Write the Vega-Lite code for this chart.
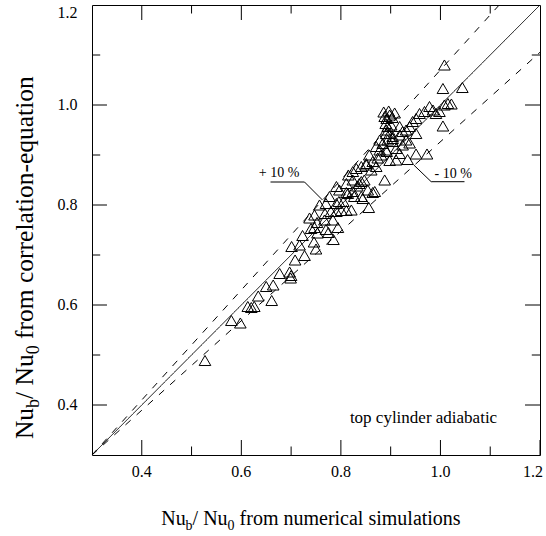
{
  "$schema": "https://vega.github.io/schema/vega-lite/v6.json",
  "width": 448,
  "height": 450,
  "autosize": "none",
  "padding": {"left": 92, "top": 5, "right": 6, "bottom": 81},
  "config": {
    "view": {"stroke": "black", "strokeWidth": 1},
    "font": "Liberation Serif"
  },
  "datasets": {
    "major": [{"v": 0.4}, {"v": 0.6}, {"v": 0.8}, {"v": 1.0}, {"v": 1.2}],
    "tickpaths": [
      {"id":"b4","x":0.4,"y":0.3},{"id":"b4","x":0.4,"y":0.33},
      {"id":"b6","x":0.6,"y":0.3},{"id":"b6","x":0.6,"y":0.33},
      {"id":"b8","x":0.8,"y":0.3},{"id":"b8","x":0.8,"y":0.33},
      {"id":"b10","x":1.0,"y":0.3},{"id":"b10","x":1.0,"y":0.33},
      {"id":"b12","x":1.2,"y":0.3},{"id":"b12","x":1.2,"y":0.33},
      {"id":"t4","x":0.4,"y":1.2},{"id":"t4","x":0.4,"y":1.17},
      {"id":"t6","x":0.6,"y":1.2},{"id":"t6","x":0.6,"y":1.17},
      {"id":"t8","x":0.8,"y":1.2},{"id":"t8","x":0.8,"y":1.17},
      {"id":"t10","x":1.0,"y":1.2},{"id":"t10","x":1.0,"y":1.17},
      {"id":"l4","x":0.3,"y":0.4},{"id":"l4","x":0.3301,"y":0.4},
      {"id":"l6","x":0.3,"y":0.6},{"id":"l6","x":0.3301,"y":0.6},
      {"id":"l8","x":0.3,"y":0.8},{"id":"l8","x":0.3301,"y":0.8},
      {"id":"l10","x":0.3,"y":1.0},{"id":"l10","x":0.3301,"y":1.0},
      {"id":"r4","x":1.1699,"y":0.4},{"id":"r4","x":1.2,"y":0.4},
      {"id":"r6","x":1.1699,"y":0.6},{"id":"r6","x":1.2,"y":0.6},
      {"id":"r8","x":1.1699,"y":0.8},{"id":"r8","x":1.2,"y":0.8},
      {"id":"r10","x":1.1699,"y":1.0},{"id":"r10","x":1.2,"y":1.0},
      {"id":"b5","x":0.5,"y":0.3},{"id":"b5","x":0.5,"y":0.317},
      {"id":"b7","x":0.7,"y":0.3},{"id":"b7","x":0.7,"y":0.317},
      {"id":"b9","x":0.9,"y":0.3},{"id":"b9","x":0.9,"y":0.317},
      {"id":"b11","x":1.1,"y":0.3},{"id":"b11","x":1.1,"y":0.317},
      {"id":"t5","x":0.5,"y":1.2},{"id":"t5","x":0.5,"y":1.183},
      {"id":"t7","x":0.7,"y":1.2},{"id":"t7","x":0.7,"y":1.183},
      {"id":"t9","x":0.9,"y":1.2},{"id":"t9","x":0.9,"y":1.183},
      {"id":"t11","x":1.1,"y":1.2},{"id":"t11","x":1.1,"y":1.183},
      {"id":"l5","x":0.3,"y":0.5},{"id":"l5","x":0.3165,"y":0.5},
      {"id":"l7","x":0.3,"y":0.7},{"id":"l7","x":0.3165,"y":0.7},
      {"id":"l9","x":0.3,"y":0.9},{"id":"l9","x":0.3165,"y":0.9},
      {"id":"l11","x":0.3,"y":1.1},{"id":"l11","x":0.3165,"y":1.1},
      {"id":"r5","x":1.1835,"y":0.5},{"id":"r5","x":1.2,"y":0.5},
      {"id":"r7","x":1.1835,"y":0.7},{"id":"r7","x":1.2,"y":0.7},
      {"id":"r9","x":1.1835,"y":0.9},{"id":"r9","x":1.2,"y":0.9},
      {"id":"r11","x":1.1835,"y":1.1},{"id":"r11","x":1.2,"y":1.1}
    ],
    "xtitle": [{"t": "Nu", "x": 0.439, "y": 0.16}, {"t": "/ Nu", "x": 0.5021, "y": 0.16}, {"t": "from numerical simulations", "x": 0.5965, "y": 0.16}],
    "xsub": [{"t": "b", "x": 0.488, "y": 0.15}, {"t": "0", "x": 0.5724, "y": 0.15}],
    "ytitle": [{"t": "Nu", "x": 0.1815, "y": 0.3318}, {"t": "/ Nu", "x": 0.1815, "y": 0.4122}, {"t": "from correlation-equation", "x": 0.1815, "y": 0.5322}],
    "ysub": [{"t": "b", "x": 0.1935, "y": 0.3942}, {"t": "0", "x": 0.1935, "y": 0.5014}],
    "lines": [
      {"line": "solid", "x": 0.3, "y": 0.3}, {"line": "solid", "x": 1.2, "y": 1.2},
      {"line": "plus", "x": 0.3, "y": 0.3}, {"line": "plus", "x": 1.118, "y": 1.2},
      {"line": "minus", "x": 0.3, "y": 0.3}, {"line": "minus", "x": 1.2, "y": 1.1055}
    ],
    "leaders": [
      {"id": "p", "x": 0.6586, "y": 0.846}, {"id": "p", "x": 0.7269, "y": 0.846}, {"id": "p", "x": 0.763, "y": 0.81},
      {"id": "m", "x": 0.9465, "y": 0.88}, {"id": "m", "x": 0.9814, "y": 0.8466}, {"id": "m", "x": 1.0483, "y": 0.8466}
    ],
    "notes": [
      {"label": "+ 10 %", "x": 0.6757, "y": 0.856},
      {"label": "- 10 %", "x": 1.0257, "y": 0.8546}
    ],
    "caption": [{"label": "top cylinder adiabatic", "x": 0.966, "y": 0.364}],
    "pts": [
      {"x":0.527,"y":0.489},{"x":0.580,"y":0.569},{"x":0.598,"y":0.564},{"x":0.613,"y":0.597},{"x":0.620,"y":0.595},{"x":0.626,"y":0.597},{"x":0.634,"y":0.618},{"x":0.661,"y":0.609},{"x":0.650,"y":0.637},{"x":0.664,"y":0.640},
      {"x":0.677,"y":0.663},{"x":0.697,"y":0.666},{"x":0.700,"y":0.659},{"x":0.699,"y":0.654},{"x":0.708,"y":0.690},{"x":0.701,"y":0.717},{"x":0.727,"y":0.699},{"x":0.723,"y":0.739},{"x":0.740,"y":0.753},{"x":0.747,"y":0.755},
      {"x":0.752,"y":0.765},{"x":0.746,"y":0.726},{"x":0.750,"y":0.712},{"x":0.770,"y":0.751},{"x":0.775,"y":0.745},{"x":0.785,"y":0.731},{"x":0.794,"y":0.755},{"x":0.768,"y":0.783},{"x":0.780,"y":0.787},{"x":0.791,"y":0.787},
      {"x":0.801,"y":0.789},{"x":0.811,"y":0.789},{"x":0.821,"y":0.790},{"x":0.791,"y":0.803},{"x":0.796,"y":0.807},{"x":0.805,"y":0.807},{"x":0.811,"y":0.825},{"x":0.814,"y":0.823},{"x":0.824,"y":0.827},{"x":0.827,"y":0.817},
      {"x":0.841,"y":0.817},{"x":0.844,"y":0.813},{"x":0.856,"y":0.795},{"x":0.864,"y":0.825},{"x":0.815,"y":0.860},{"x":0.837,"y":0.843},{"x":0.841,"y":0.847},{"x":0.847,"y":0.850},{"x":0.824,"y":0.867},{"x":0.831,"y":0.873},
      {"x":0.841,"y":0.877},{"x":0.851,"y":0.880},{"x":0.861,"y":0.870},{"x":0.871,"y":0.877},{"x":0.888,"y":0.850},{"x":0.898,"y":0.889},{"x":0.934,"y":0.891},{"x":0.951,"y":0.902},{"x":0.973,"y":0.902},{"x":0.918,"y":0.903},
      {"x":0.911,"y":0.913},{"x":0.891,"y":0.910},{"x":0.878,"y":0.910},{"x":0.864,"y":0.887},{"x":0.851,"y":0.883},{"x":0.857,"y":0.900},{"x":0.871,"y":0.917},{"x":0.891,"y":0.943},{"x":0.904,"y":0.933},{"x":0.918,"y":0.940},
      {"x":0.931,"y":0.930},{"x":0.951,"y":0.943},{"x":0.878,"y":0.930},{"x":0.884,"y":0.923},{"x":0.888,"y":0.977},{"x":0.892,"y":0.973},{"x":0.898,"y":0.980},{"x":0.903,"y":0.975},{"x":0.890,"y":0.963},{"x":0.894,"y":0.957},
      {"x":0.901,"y":0.960},{"x":0.891,"y":0.950},{"x":0.898,"y":0.943},{"x":0.904,"y":0.937},{"x":0.894,"y":0.930},{"x":0.904,"y":0.927},{"x":0.881,"y":0.900},{"x":0.892,"y":0.907},{"x":0.918,"y":0.957},{"x":0.924,"y":0.947},
      {"x":0.931,"y":0.950},{"x":0.938,"y":0.957},{"x":0.944,"y":0.967},{"x":0.951,"y":0.973},{"x":0.958,"y":0.983},{"x":0.968,"y":0.987},{"x":0.978,"y":0.997},{"x":0.985,"y":0.990},{"x":0.991,"y":0.983},{"x":0.998,"y":0.987},
      {"x":1.008,"y":1.000},{"x":1.015,"y":1.003},{"x":1.005,"y":0.958},{"x":1.005,"y":1.033},{"x":1.044,"y":1.035},{"x":1.008,"y":1.080},{"x":1.022,"y":1.002},{"x":0.868,"y":0.827},{"x":0.854,"y":0.830},{"x":0.824,"y":0.850},
      {"x":0.811,"y":0.843},{"x":0.797,"y":0.830},{"x":0.791,"y":0.837},{"x":0.777,"y":0.817},{"x":0.770,"y":0.803},{"x":0.757,"y":0.800},{"x":0.747,"y":0.780},{"x":0.737,"y":0.774},{"x":0.767,"y":0.770},{"x":0.784,"y":0.770},
      {"x":0.753,"y":0.744},{"x":0.717,"y":0.720},{"x":0.911,"y":0.890},{"x":0.924,"y":0.920},{"x":0.938,"y":0.924},{"x":0.896,"y":0.988},{"x":0.886,"y":0.986},{"x":0.908,"y":0.984},{"x":0.874,"y":0.894},{"x":0.833,"y":0.838}
    ]
  },
  "layer": [
    {
      "data": {"name": "lines"},
      "mark": {"type": "line", "color": "black", "strokeWidth": 1},
      "encoding": {
        "x": {"field": "x", "type": "quantitative", "scale": {"domain": [0.3, 1.2], "nice": false, "zero": false}, "axis": null},
        "y": {"field": "y", "type": "quantitative", "scale": {"domain": [0.3, 1.2], "nice": false, "zero": false}, "axis": null},
        "detail": {"field": "line"},
        "strokeDash": {"field": "line", "type": "nominal", "scale": {"domain": ["solid", "plus", "minus"], "range": [[1, 0], [7, 8], [7, 8]]}, "legend": null}
      }
    },
    {
      "data": {"name": "tickpaths"},
      "mark": {"type": "line", "color": "black", "strokeWidth": 1},
      "encoding": {
        "x": {"field": "x", "type": "quantitative", "axis": null},
        "y": {"field": "y", "type": "quantitative", "axis": null},
        "detail": {"field": "id"}
      }
    },
    {
      "data": {"name": "major"},
      "transform": [{"filter": "datum.v < 1.1"}],
      "mark": {"type": "text", "font": "Liberation Serif", "color": "black", "fontSize": 16, "align": "center", "baseline": "top"},
      "encoding": {"x": {"field": "v", "type": "quantitative", "axis": null}, "y": {"datum": 0.2812, "type": "quantitative", "axis": null}, "text": {"field": "v", "type": "quantitative", "format": ".1f"}}
    },
    {
      "data": {"name": "major"},
      "transform": [{"filter": "datum.v > 1.1"}],
      "mark": {"type": "text", "font": "Liberation Serif", "color": "black", "fontSize": 16, "align": "right", "baseline": "top", "dx": 3},
      "encoding": {"x": {"field": "v", "type": "quantitative", "axis": null}, "y": {"datum": 0.2812, "type": "quantitative", "axis": null}, "text": {"field": "v", "type": "quantitative", "format": ".1f"}}
    },
    {
      "data": {"name": "major"},
      "transform": [{"filter": "datum.v < 1.1"}],
      "mark": {"type": "text", "font": "Liberation Serif", "color": "black", "fontSize": 16, "align": "right", "baseline": "middle"},
      "encoding": {"y": {"field": "v", "type": "quantitative", "axis": null}, "x": {"datum": 0.2709, "type": "quantitative", "axis": null}, "text": {"field": "v", "type": "quantitative", "format": ".1f"}}
    },
    {
      "data": {"name": "major"},
      "transform": [{"filter": "datum.v > 1.1"}],
      "mark": {"type": "text", "font": "Liberation Serif", "color": "black", "fontSize": 16, "align": "right", "baseline": "top"},
      "encoding": {"y": {"field": "v", "type": "quantitative", "axis": null}, "x": {"datum": 0.2709, "type": "quantitative", "axis": null}, "text": {"field": "v", "type": "quantitative", "format": ".1f"}}
    },
    {
      "data": {"name": "xtitle"},
      "mark": {"type": "text", "font": "Liberation Serif", "color": "black", "fontSize": 20, "align": "left", "baseline": "alphabetic"},
      "encoding": {"x": {"field": "x", "type": "quantitative", "axis": null}, "y": {"field": "y", "type": "quantitative", "axis": null}, "text": {"field": "t"}}
    },
    {
      "data": {"name": "xsub"},
      "mark": {"type": "text", "font": "Liberation Serif", "color": "black", "fontSize": 14, "align": "left", "baseline": "alphabetic"},
      "encoding": {"x": {"field": "x", "type": "quantitative", "axis": null}, "y": {"field": "y", "type": "quantitative", "axis": null}, "text": {"field": "t"}}
    },
    {
      "data": {"name": "ytitle"},
      "mark": {"type": "text", "font": "Liberation Serif", "color": "black", "fontSize": 25.5, "align": "left", "baseline": "alphabetic", "angle": 270},
      "encoding": {"x": {"field": "x", "type": "quantitative", "axis": null}, "y": {"field": "y", "type": "quantitative", "axis": null}, "text": {"field": "t"}}
    },
    {
      "data": {"name": "ysub"},
      "mark": {"type": "text", "font": "Liberation Serif", "color": "black", "fontSize": 18, "align": "left", "baseline": "alphabetic", "angle": 270},
      "encoding": {"x": {"field": "x", "type": "quantitative", "axis": null}, "y": {"field": "y", "type": "quantitative", "axis": null}, "text": {"field": "t"}}
    },
    {
      "data": {"name": "pts"},
      "mark": {"type": "point", "shape": "triangle-up", "filled": false, "stroke": "black", "strokeWidth": 1, "size": 135, "opacity": 1},
      "encoding": {
        "x": {"field": "x", "type": "quantitative", "axis": null},
        "y": {"field": "y", "type": "quantitative", "axis": null}
      }
    },
    {
      "data": {"name": "leaders"},
      "mark": {"type": "line", "color": "black", "strokeWidth": 1},
      "encoding": {
        "x": {"field": "x", "type": "quantitative", "axis": null},
        "y": {"field": "y", "type": "quantitative", "axis": null},
        "detail": {"field": "id"}
      }
    },
    {
      "data": {"name": "notes"},
      "mark": {"type": "text", "font": "Liberation Serif", "color": "black", "fontSize": 14, "align": "center", "baseline": "alphabetic"},
      "encoding": {
        "x": {"field": "x", "type": "quantitative", "axis": null},
        "y": {"field": "y", "type": "quantitative", "axis": null},
        "text": {"field": "label"}
      }
    },
    {
      "data": {"name": "caption"},
      "mark": {"type": "text", "font": "Liberation Serif", "color": "black", "fontSize": 17, "align": "center", "baseline": "alphabetic"},
      "encoding": {
        "x": {"field": "x", "type": "quantitative", "axis": null},
        "y": {"field": "y", "type": "quantitative", "axis": null},
        "text": {"field": "label"}
      }
    }
  ]
}
